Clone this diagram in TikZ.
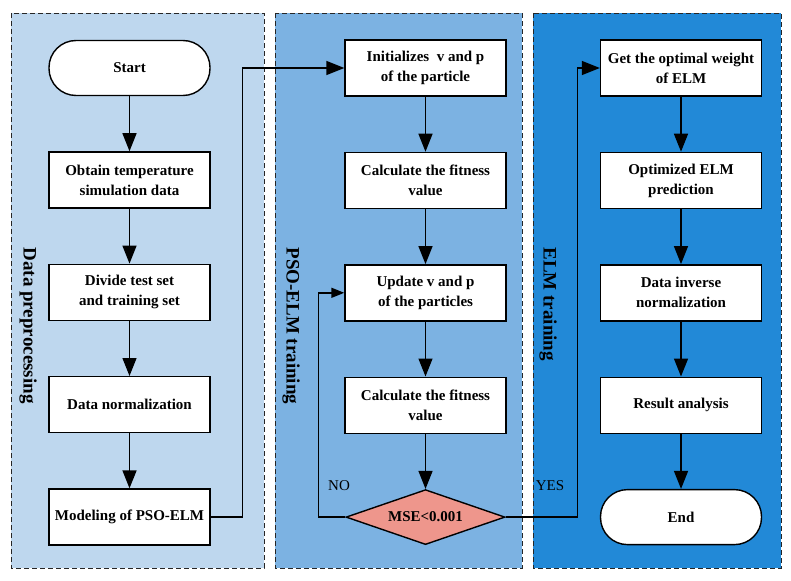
\documentclass[tikz,border=0pt]{standalone}
\usepackage{fontspec}
\setmainfont{Liberation Serif}
\usetikzlibrary{arrows.meta,positioning,shapes.geometric}
\definecolor{panelLight}{RGB}{190,215,238}
\definecolor{panelMid}{RGB}{124,178,226}
\definecolor{panelDeep}{RGB}{34,137,215}
\definecolor{decisionRed}{RGB}{238,150,140}
\tikzset{
  panel/.style={draw=black!85,line width=0.9pt,dash pattern=on 5pt off 3pt},
  box/.style={draw,line width=1.4pt,fill=white,minimum width=161pt,minimum height=56pt,
    align=center,font=\fontsize{15}{20}\selectfont\bfseries},
  terminal/.style={box,rounded corners=27pt,minimum height=55pt},
  decision/.style={draw,line width=1.4pt,fill=decisionRed,diamond,aspect=2.9,inner sep=1pt,
    minimum width=159pt,minimum height=55pt,font=\fontsize{15}{20}\selectfont\bfseries},
  paneltitle/.style={rotate=-90,anchor=west,font=\fontsize{19}{22}\selectfont\bfseries},
  flow/.style={line width=1.4pt,-{Triangle[length=18pt,width=14pt]}},
  smallflow/.style={line width=1.4pt,-{Triangle[length=13pt,width=10pt]}}
}

\begin{document}
\begin{tikzpicture}[x=1pt,y=-1pt,node distance=55pt]
  \useasboundingbox (0,0) rectangle (791,580);
  % background panels
  \filldraw[panel,fill=panelLight] (11,13) rectangle (264,568);
  \filldraw[panel,fill=panelMid] (275,13) rectangle (522,568);
  \filldraw[panel,fill=panelDeep] (533,13) rectangle (781,568);
  \node[paneltitle] (prep) at (28,244) {Data preprocessing};
  \node[paneltitle] (psotrain) at (291,244) {PSO-ELM training};
  \node[paneltitle] (elmtrain) at (548,244) {ELM training};

  % data preprocessing
  \node[terminal] (start) at (129.5,68) {Start};
  \node[box,below=of start] (obtain) {Obtain temperature\\simulation data};
  \node[box,below=of obtain] (divide) {Divide test set\\and training set};
  \node[box,below=of divide] (norm) {Data normalization};
  \node[box,below=of norm] (model) {Modeling of PSO-ELM};

  % PSO-ELM training
  \node[box] (init) at (425.5,68) {Initializes~ v and p\\of the particle};
  \node[box,below=of init] (fit) {Calculate the fitness\\value};
  \node[box,below=of fit] (update) {Update v and p\\of the particles};
  \node[box,below=of update] (refit) {Calculate the fitness\\value};
  \node[decision,below=of refit] (mse) {MSE<0.001};

  % ELM training
  \node[box] (getw) at (681,68) {Get the optimal weight\\of ELM};
  \node[box,below=of getw] (optim) {Optimized ELM\\prediction};
  \node[box,below=of optim] (inverse) {Data inverse\\normalization};
  \node[box,below=of inverse] (result) {Result analysis};
  \node[terminal,below=of result] (finish) {End};

  \node[font=\fontsize{15}{18}\selectfont] (nolabel) at (339,486) {NO};
  \node[font=\fontsize{15}{18}\selectfont] (yeslabel) at (550,486) {YES};

  \draw[flow] (start) -- (obtain);
  \draw[flow] (obtain) -- (divide);
  \draw[flow] (divide) -- (norm);
  \draw[flow] (norm) -- (model);
  \draw[flow] (model.east) -- ++(32,0) |- (init.west);
  \draw[flow] (init) -- (fit);
  \draw[flow] (fit) -- (update);
  \draw[flow] (update) -- (refit);
  \draw[flow] (refit) -- (mse);
  \draw[smallflow] (mse.west) -- ++(-27,0) |- (update.west);
  \draw[flow] (mse.east) -- ++(72,0) |- (getw.west);
  \draw[flow] (getw) -- (optim);
  \draw[flow] (optim) -- (inverse);
  \draw[flow] (inverse) -- (result);
  \draw[flow] (result) -- (finish);
\end{tikzpicture}
\end{document}
